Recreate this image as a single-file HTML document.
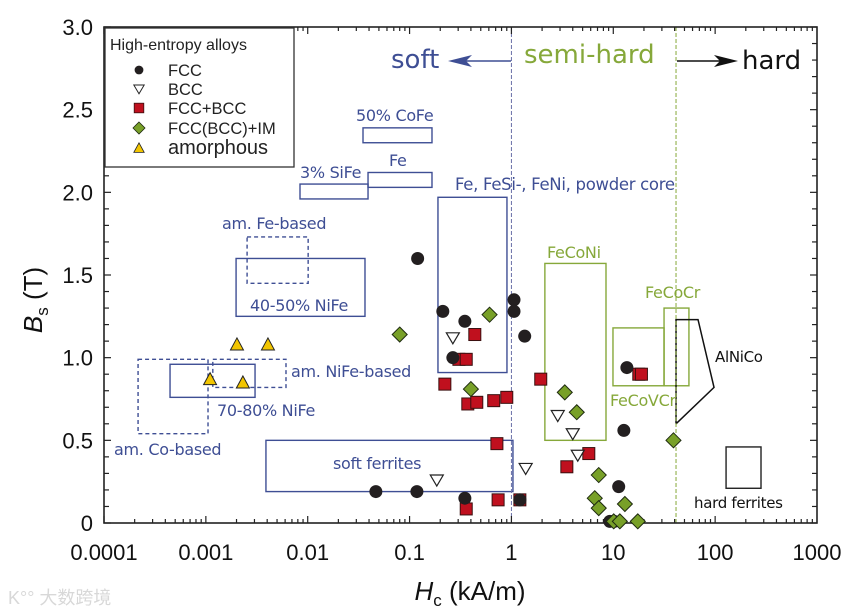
<!DOCTYPE html>
<html><head><meta charset="utf-8"><style>
html,body{margin:0;padding:0;background:#fff;}
svg{display:block;font-family:"Liberation Sans",sans-serif;}
</style></head><body>
<svg id="chart" width="847" height="615" viewBox="0 0 847 615" xmlns="http://www.w3.org/2000/svg">
<g id="regions"></g>
<g id="axes"></g>
<g id="marks"></g>
<g id="labels"></g>
</svg>
<script>
// ---- data (Hc in kA/m, Bs in T) ----
const fccH = [0.12,0.212,0.349,0.266,1.06,1.06,1.35,0.0467,0.118,0.349,1.21,13.6,12.7,11.3,9.25,10.2];
const fccB = [1.60,1.28,1.22,1.00,1.35,1.28,1.13,0.19,0.19,0.15,0.14,0.94,0.56,0.22,0.01,0.01];
const bccH = [0.266,0.185,1.38,2.85,4.0,4.48];
const bccB = [1.12,0.26,0.33,0.65,0.54,0.41];
const fbH = [0.437,0.305,0.36,0.222,0.373,0.457,0.67,0.90,0.72,0.36,0.74,1.21,1.94,5.75,3.5,17.8,18.9];
const fbB = [1.14,0.99,0.99,0.84,0.72,0.73,0.74,0.76,0.48,0.085,0.14,0.14,0.87,0.42,0.34,0.90,0.90];
const imH = [0.080,0.61,0.40,3.34,4.38,7.2,6.58,7.2,13.0,17.4,10.1,11.6,39];
const imB = [1.14,1.26,0.81,0.79,0.67,0.29,0.15,0.09,0.115,0.01,0.01,0.01,0.50];
const amH = [0.00202,0.00407,0.0011,0.00231];
const amB = [1.08,1.08,0.87,0.85];
const xTicks = [0.0001,0.001,0.01,0.1,1,10,100,1000];
const xTickLabels = ["0.0001","0.001","0.01","0.1","1","10","100","1000"];
const yTicks = [0,0.5,1.0,1.5,2.0,2.5,3.0];
const yTickLabels = ["0","0.5","1.0","1.5","2.0","2.5","3.0"];
// regions: [hMin,hMax,bMin,bMax]
const regionNames = ["50-cofe","3-sife","fe","am-fe-based","40-50-nife","am-nife-based","70-80-nife","am-co-based","soft-ferrites","powder-core","feconi","fecovcr","fecocr","hard-ferrites"];
const regionH0 = [0.0349,0.0084,0.0391,0.00254,0.00198,0.00117,0.000445,0.000216,0.00389,0.190,2.13,9.93,31.5,128];
const regionH1 = [0.166,0.0391,0.166,0.0101,0.0365,0.00612,0.00304,0.00105,1.035,0.904,8.48,31.5,55.3,282];
const regionB0 = [2.30,1.96,2.03,1.45,1.25,0.82,0.76,0.54,0.19,0.91,0.50,0.83,0.83,0.21];
const regionB1 = [2.39,2.05,2.12,1.73,1.60,0.99,0.96,0.99,0.50,1.97,1.57,1.18,1.30,0.46];
const regionStyle = ["b","b","b","bd","b","bd","b","bd","b","b","g","g","g","k"];
const alnicoH = [41.3,41.3,67.9,97.5,41.3];
const alnicoB = [0.60,1.23,1.23,0.82,0.60];
const softLimit = 1, hardLimit = 41.3;

const NS="http://www.w3.org/2000/svg";
const X0=104,X1=817,Y0=523,Y1=27;
function xs(h){return X0+(Math.log10(h)+4)/7*(X1-X0);}
function ys(b){return Y0-b/3*(Y0-Y1);}
function mk(tag,attrs,parent,text){const e=document.createElementNS(NS,tag);for(const k in attrs)e.setAttribute(k,attrs[k]);if(text!==undefined)e.textContent=text;parent.appendChild(e);return e;}
const gR=document.getElementById('regions'),gA=document.getElementById('axes'),gM=document.getElementById('marks'),gL=document.getElementById('labels');
const BLUE="#3e4e94",GREEN="#86a83a";

const colMap={b:BLUE,bd:BLUE,g:GREEN,k:"#222"};
regionNames.forEach((n,i)=>{
  const x=xs(regionH0[i]),x2=xs(regionH1[i]),y=ys(regionB1[i]),y2=ys(regionB0[i]);
  const r=mk('rect',{x:x,y:y,width:x2-x,height:y2-y,fill:'none',stroke:colMap[regionStyle[i]],'stroke-width':1.4},gR);
  if(regionStyle[i]==='bd')r.setAttribute('stroke-dasharray','4,3');
  
  
});
const al=mk('polyline',{points:alnicoH.map((h,i)=>xs(h)+','+ys(alnicoB[i])).join(' '),fill:'none',stroke:'#111','stroke-width':1.5},gR);


const sl=mk('line',{x1:xs(softLimit),x2:xs(softLimit),y1:Y1,y2:Y0,stroke:'#6a70a8','stroke-width':1,'stroke-dasharray':'4,2'},gR);


const hl=mk('line',{x1:xs(hardLimit),x2:xs(hardLimit),y1:Y1,y2:Y0,stroke:GREEN,'stroke-width':1,'stroke-dasharray':'4,2'},gR);



const fr=mk('rect',{x:X0,y:Y1,width:X1-X0,height:Y0-Y1,fill:'none',stroke:'#222','stroke-width':1.6},gA);


for(let d=-4;d<3;d++){for(let m=1;m<10;m++){const v=m*Math.pow(10,d);const x=xs(v);const L=m===1?7:4;
  mk('line',{x1:x,x2:x,y1:Y0,y2:Y0-L,stroke:'#222','stroke-width':1.2},gA);
  mk('line',{x1:x,x2:x,y1:Y1,y2:Y1+L,stroke:'#222','stroke-width':1.2},gA);}}
for(let i=0;i<=30;i++){const y=ys(i/10);const L=i%5===0?7:5;
  mk('line',{x1:X0,x2:X0+L,y1:y,y2:y,stroke:'#222','stroke-width':1.2},gA);
  mk('line',{x1:X1,x2:X1-L,y1:y,y2:y,stroke:'#222','stroke-width':1.2},gA);}
xTicks.forEach((v,i)=>{const t=mk('text',{x:xs(v),y:560,'font-size':22,'text-anchor':'middle',fill:'#111'},gA,xTickLabels[i]);
  
  });
yTicks.forEach((v,i)=>{const t=mk('text',{x:93,y:ys(v)+8,'font-size':22,'text-anchor':'end',fill:'#111'},gA,yTickLabels[i]);
  
  });

function circ(x,y,p){const e=mk('circle',{cx:x,cy:y,r:6.5,fill:'#231f20'},p);return e;}
function sq(x,y,p){return mk('rect',{x:x-6,y:y-6,width:12,height:12,fill:'#c0101e',stroke:'#3a1010','stroke-width':1},p);}
function dia(x,y,p){return mk('polygon',{points:`${x},${y-7.5} ${x+7.5},${y} ${x},${y+7.5} ${x-7.5},${y}`,fill:'#78a028',stroke:'#1e2a10','stroke-width':1},p);}
function tri(x,y,p){return mk('polygon',{points:`${x-6.5},${y-5} ${x+6.5},${y-5} ${x},${y+6}`,fill:'#fff',stroke:'#222','stroke-width':1.2},p);}
function amt(x,y,p){return mk('polygon',{points:`${x-6.5},${y+5.5} ${x+6.5},${y+5.5} ${x},${y-6.5}`,fill:'#f2c500',stroke:'#222','stroke-width':1},p);}
fbH.forEach((h,i)=>{const e=sq(xs(h),ys(fbB[i]),gM);});
fccH.forEach((h,i)=>{const e=circ(xs(h),ys(fccB[i]),gM);});
imH.forEach((h,i)=>{const e=dia(xs(h),ys(imB[i]),gM);});
bccH.forEach((h,i)=>{const e=tri(xs(h),ys(bccB[i]),gM);});
amH.forEach((h,i)=>{const e=amt(xs(h),ys(amB[i]),gM);});

const lg=mk('g',{},gL);


mk('rect',{x:105,y:28,width:189,height:139,fill:'#fff',stroke:'#333','stroke-width':1.3},lg);
mk('text',{x:110,y:50,'font-size':16,fill:'#222'},lg,'High-entropy alloys');
const legNames=['FCC','BCC','FCC+BCC','FCC(BCC)+IM','amorphous'];
const legY=[70,89,108,128,148];
const legFns=[(x,y,p)=>{const c=circ(x,y,p);c.setAttribute('r',5.5);return c;},tri,sq,dia,amt];
legNames.forEach((n,i)=>{const m=legFns[i](139,legY[i],lg);m.setAttribute('transform',`translate(139,${legY[i]}) scale(0.8) translate(-139,${-legY[i]})`);
  const t=mk('text',{x:168,y:legY[i]+6,'font-size':i===4?20:16.5,fill:'#222'},lg,n);
  
  });

const ann=[
 ['50% CoFe',356,121,16,BLUE],['3% SiFe',300,178,16,BLUE],['Fe',389,166,16,BLUE],
 ['Fe, FeSi-, FeNi, powder core',455,190,16.5,BLUE],['am. Fe-based',222,229,16,BLUE],
 ['40-50% NiFe',250,311,16,BLUE],['am. NiFe-based',291,377,16,BLUE],['70-80% NiFe',217,416,16,BLUE],
 ['am. Co-based',114,455,16,BLUE],['soft ferrites',333,469,16,BLUE],
 ['FeCoNi',547,258,16,GREEN],['FeCoCr',645,298,16,GREEN],['FeCoVCr',610,406,16,GREEN],
 ['AlNiCo',715,362,15,'#111'],['hard ferrites',694,508,15,'#111'],
 ['soft',391,68,26,BLUE],['semi-hard',524,63,26,GREEN],['hard',742,69,26,'#111']];
ann.forEach(a=>{const t=mk('text',{x:a[1],y:a[2],'font-size':a[3],fill:a[4],'font-family':'"DejaVu Sans","Liberation Sans",sans-serif','letter-spacing':a[3]>20?0:-0.3},gL,a[0]);
  
  });
mk('line',{x1:511,y1:61,x2:460,y2:61,stroke:BLUE,'stroke-width':1.5},gL);
mk('polygon',{points:'448,61 472,55 466,61 472,67',fill:BLUE},gL);
mk('line',{x1:677,y1:61,x2:725,y2:61,stroke:'#111','stroke-width':1.5},gL);
mk('polygon',{points:'738,61 714,55 720,61 714,67',fill:'#111'},gL);
const yt=mk('text',{transform:'translate(42,300) rotate(-90)','font-size':26,'text-anchor':'middle',fill:'#111'},gL);


mk('tspan',{'font-style':'italic'},yt,'B');mk('tspan',{'font-size':17,dy:6},yt,'s');mk('tspan',{dy:-6},yt,' (T)');
const xt=mk('text',{x:470,y:600,'font-size':26,'text-anchor':'middle',fill:'#111'},gL);


mk('tspan',{'font-style':'italic'},xt,'H');mk('tspan',{'font-size':17,dy:6},xt,'c');mk('tspan',{dy:-6},xt,' (kA/m)');
const wm=mk('text',{x:8,y:604,'font-size':18,fill:'#d8d8d8','font-family':'"Liberation Sans","Noto Sans CJK SC",sans-serif'},gL,'K°° 大数跨境');


</script>
</body></html>
